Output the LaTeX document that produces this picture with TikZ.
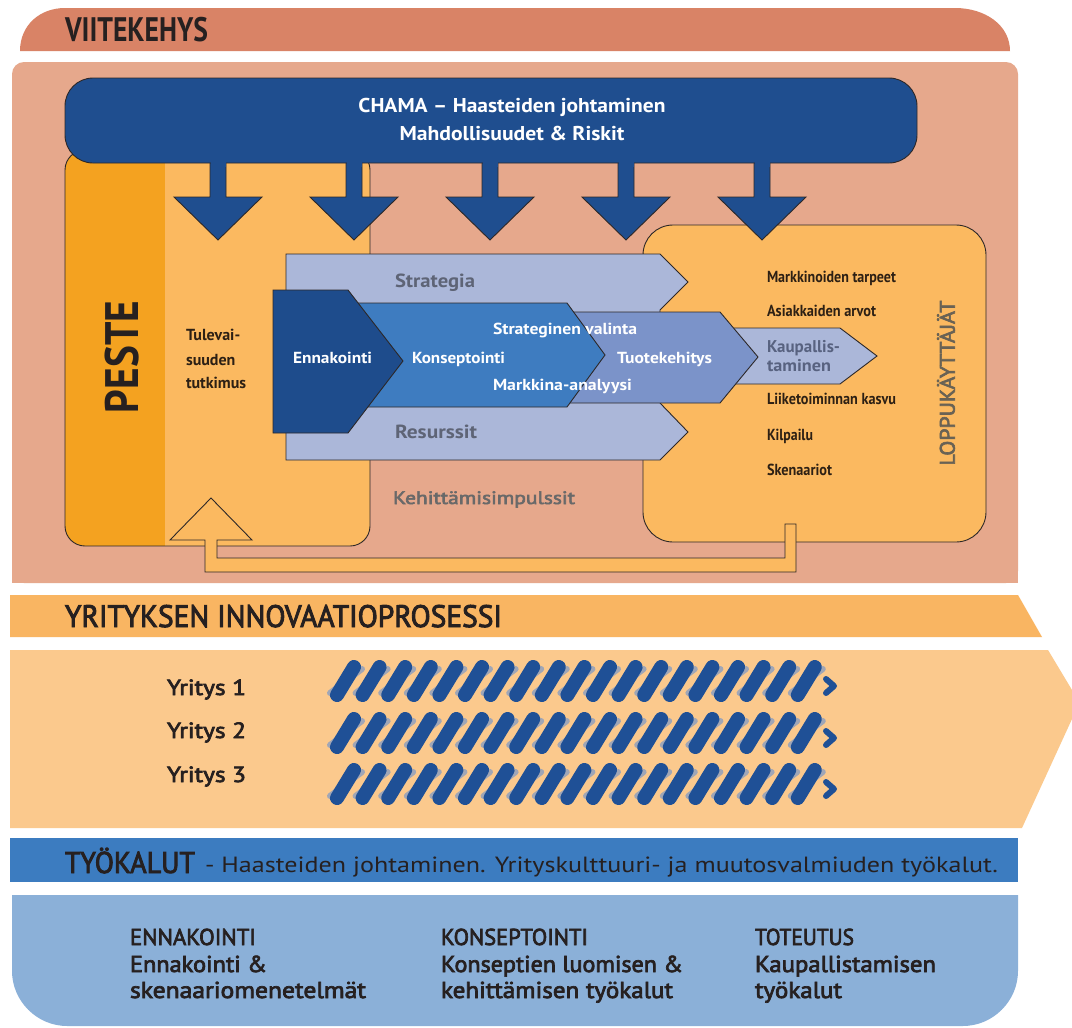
\documentclass[tikz,border=0pt]{standalone}
\usepackage{fontspec}
\setmainfont{PT Sans}
\newfontfamily\medf[FakeBold=3]{PT Sans}
\usepackage{graphicx}
\newcommand\fitw[2]{\resizebox{#1pt}{\height}{#2}}
\newcommand\fsz[1]{\fontsize{#1}{#1}\selectfont}
\definecolor{viitec}{RGB}{217,131,102}
\definecolor{panelc}{RGB}{230,168,140}
\definecolor{chamac}{RGB}{31,78,143}
\definecolor{dorange}{RGB}{244,162,32}
\definecolor{lorange}{RGB}{251,185,96}
\definecolor{ennc}{RGB}{30,76,140}
\definecolor{konc}{RGB}{62,124,192}
\definecolor{tuoc}{RGB}{123,147,201}
\definecolor{lavc}{RGB}{171,183,217}
\definecolor{graytxt}{RGB}{94,100,118}
\definecolor{kaupc}{RGB}{88,98,128}
\definecolor{yorange}{RGB}{249,181,98}
\definecolor{peachc}{RGB}{251,201,141}
\definecolor{tblue}{RGB}{60,124,192}
\definecolor{bblue}{RGB}{139,176,216}
\definecolor{stripec}{RGB}{31,80,150}
\definecolor{ropegray}{RGB}{160,166,182}
\definecolor{edgec}{RGB}{45,40,40}
\definecolor{darktxt}{RGB}{38,32,32}
\definecolor{itemtxt}{RGB}{45,32,20}
\definecolor{loppuc}{RGB}{105,98,84}
\definecolor{kehc}{RGB}{105,105,105}
\begin{document}
\begin{tikzpicture}[x=1pt,y=-1pt,
  outl/.style={draw=edgec,line width=0.9pt},
  txt/.style={inner sep=0pt,outer sep=0pt,anchor=base west},
  ctxt/.style={inner sep=0pt,outer sep=0pt,anchor=base},
  hdr/.style={txt,text=darktxt},
  wlab/.style={txt,text=white,font=\fsz{16}\bfseries},
  item/.style={txt,text=itemtxt,font=\fsz{16}\bfseries},
  bot/.style={txt,text=darktxt,font=\fsz{23}\medf}]
\useasboundingbox (0,0) rectangle (1072,1028);
\fill[white] (0,0) rectangle (1072,1028);

% VIITEKEHYS band
\fill[viitec] (20,51) .. controls (20,25) and (40,8) .. (65,8) -- (955,8)
  .. controls (985,8) and (1010,25) .. (1010,51) -- cycle;
\node[hdr,font=\fsz{34}\bfseries] (viite) at (65,41) {\fitw{143}{VIITEKEHYS}};

% salmon panel
\fill[panelc,rounded corners=12pt] (12,62) rectangle (1018,583);
\fill[panelc] (12,300) rectangle (1018,583);

% PESTE box
\begin{scope}
  \clip[rounded corners=20pt] (65,150) rectangle (370,546);
  \fill[lorange] (65,150) rectangle (370,546);
  \fill[dorange] (65,150) rectangle (165,546);
\end{scope}
\draw[outl,rounded corners=20pt] (65,150) rectangle (370,546);

% LOPPUKAYTTAJAT box
\filldraw[fill=lorange,outl,rounded corners=30pt] (643,225) rectangle (986,542);

% lavender Strategia / Resurssit shape
\filldraw[fill=lavc,outl] (286,254) -- (660,254) -- (688,282) -- (660,310) -- (660,403)
  -- (688,432) -- (660,460) -- (286,460) -- cycle;
% Kaupallistaminen
\filldraw[fill=lavc,outl] (700,328) -- (840,328) -- (877,356) -- (840,384) -- (700,384) -- cycle;
% Tuotekehitys
\filldraw[fill=tuoc,outl] (560,312) -- (720,312) -- (758,357) -- (720,403) -- (560,403) -- cycle;
% Konseptointi
\filldraw[fill=konc,outl] (330,303) -- (567,303) -- (605,355) -- (567,407) -- (330,407) -- cycle;
% Ennakointi
\filldraw[fill=ennc,outl] (273,290) -- (348,290) -- (403,361) -- (348,433) -- (273,433) -- cycle;

% feedback pipe
\filldraw[fill=lorange,outl] (785,524) -- (796,524) -- (796,572) -- (205,572) -- (205,540)
  -- (170,540) -- (211,498) -- (252,540) -- (217,540) -- (217,558) -- (785,558) -- cycle;

% down arrows
\foreach \cx in {218,354,490,626,762}{
  \filldraw[fill=chamac,outl] ({\cx-8},150) -- ({\cx-8},197) -- ({\cx-44},197) -- (\cx,240)
    -- ({\cx+44},197) -- ({\cx+8},197) -- ({\cx+8},150) -- cycle;
}
% CHAMA bar
\filldraw[fill=chamac,outl,rounded corners=28pt] (65,78) rectangle (917,163);
\foreach \cx in {218,354,490,626,762}{
  \fill[chamac] ({\cx-7.5},158) rectangle ({\cx+7.5},167);
}
\node[ctxt,text=white,font=\fsz{20}\bfseries] (chama1) at (512,112) {\fitw{307}{CHAMA – Haasteiden johtaminen}};
\node[ctxt,text=white,font=\fsz{20}\bfseries] (chama2) at (512,140) {\fitw{225}{Mahdollisuudet \& Riskit}};

% PESTE column
\node[inner sep=0pt,rotate=90,text=darktxt,font=\fsz{47}\bfseries] (peste) at (122,357) {\fitw{112}{PESTE}};
\node[txt,text=itemtxt,font=\fsz{16}\bfseries] (tul1) at (186,340) {Tulevai-};
\node[txt,text=itemtxt,font=\fsz{16}\bfseries] (tul2) at (186,365) {suuden};
\node[txt,text=itemtxt,font=\fsz{16}\bfseries] (tul3) at (186,388) {tutkimus};

% process labels
\node[txt,text=graytxt,font=\fsz{19}\bfseries] (strat) at (395,287) {\fitw{80}{Strategia}};
\node[txt,text=graytxt,font=\fsz{19}\bfseries] (resu) at (395,438) {\fitw{82}{Resurssit}};
\node[wlab] (enna) at (293,363) {\fitw{79}{Ennakointi}};
\node[wlab] (kons) at (412,363) {\fitw{93}{Konseptointi}};
\node[wlab] (strv) at (493,334) {\fitw{144}{Strateginen valinta}};
\node[wlab] (mark) at (493,390) {\fitw{139}{Markkina-analyysi}};
\node[wlab] (tuot) at (617,363) {\fitw{95}{Tuotekehitys}};
\node[txt,text=kaupc,font=\fsz{17}\bfseries] (kaup1) at (767,352) {\fitw{73}{Kaupallis-}};
\node[txt,text=kaupc,font=\fsz{17}\bfseries] (kaup2) at (767,371) {\fitw{64}{taminen}};
\node[txt,text=kehc,font=\fsz{18}\medf] (kehi) at (393,504) {\fitw{182}{Kehittämisimpulssit}};

% right items
\node[item] (it1) at (767,282) {\fitw{129}{Markkinoiden tarpeet}};
\node[item] (it2) at (767,316) {\fitw{109}{Asiakkaiden arvot}};
\node[item] (it3) at (767,404) {\fitw{129}{Liiketoiminnan kasvu}};
\node[item] (it4) at (767,440) {\fitw{46}{Kilpailu}};
\node[item] (it5) at (767,475) {\fitw{65}{Skenaariot}};
\node[inner sep=0pt,rotate=90,text=loppuc,font=\fsz{21}\medf] (loppu) at (946,383) {\fitw{165}{LOPPUKÄYTTÄJÄT}};

% innovation process
\fill[yorange] (10,595) -- (1018,595) -- (1042,637) -- (10,637) -- cycle;
\node[hdr,font=\fsz{31}\medf] (yrit) at (65,627) {\fitw{437}{YRITYKSEN INNOVAATIOPROSESSI}};
\fill[peachc] (10,650) -- (1048,650) -- (1072,690) -- (1072,719) -- (1022,828) -- (10,828) -- cycle;
\node[hdr,font=\fsz{22}\medf] (y1) at (167,695) {\fitw{79}{Yritys 1}};
\node[hdr,font=\fsz{22}\medf] (y2) at (167,738) {\fitw{79}{Yritys 2}};
\node[hdr,font=\fsz{22}\medf] (y3) at (167,782) {\fitw{79}{Yritys 3}};
\foreach \T in {660,712,763}{
  \foreach \i in {0,...,18}{
    \pgfmathsetmacro\xx{336+\i*25.6}
    \draw[ropegray,line width=6pt,line cap=round] ({\xx-6},{\T+33}) -- ({\xx+26},{\T+9});
  }
  \foreach \i in {0,...,18}{
    \pgfmathsetmacro\xx{336+\i*25.6}
    \draw[stripec,line width=14pt,line cap=round] ({\xx+1},{\T+35}) -- ({\xx+18},{\T+7});
  }
  \draw[stripec,line width=6pt,line cap=round,line join=round] (826,{\T+19}) -- (834,{\T+26}) -- (826,{\T+33});
}

% tools band
\fill[tblue] (10,838) rectangle (1018,882);
\node[hdr,font=\fsz{30}\medf] (tyo) at (65,873) {\fitw{130}{TYÖKALUT}};
\node[hdr,font=\fsz{22}] (tyo2) at (205,872) {\fitw{793}{- Haasteiden johtaminen. Yrityskulttuuri- ja muutosvalmiuden työkalut.}};

% bottom panel
\fill[bblue] (12,895) -- (1018,895) -- (1018,971) .. controls (1018,1001) and (993,1026) .. (963,1026)
  -- (67,1026) .. controls (37,1026) and (12,1001) .. (12,971) -- cycle;
\node[bot] (b11) at (130,945) {\fitw{126}{ENNAKOINTI}};
\node[bot] (b12) at (130,972) {\fitw{137}{Ennakointi \&}};
\node[bot] (b13) at (130,998) {\fitw{236}{skenaariomenetelmät}};
\node[bot] (b21) at (441,945) {\fitw{147}{KONSEPTOINTI}};
\node[bot] (b22) at (441,972) {\fitw{242}{Konseptien luomisen \&}};
\node[bot] (b23) at (441,998) {\fitw{232}{kehittämisen työkalut}};
\node[bot] (b31) at (755,945) {\fitw{99}{TOTEUTUS}};
\node[bot] (b32) at (755,972) {\fitw{181}{Kaupallistamisen}};
\node[bot] (b33) at (755,998) {\fitw{87}{työkalut}};
\end{tikzpicture}
\end{document}
